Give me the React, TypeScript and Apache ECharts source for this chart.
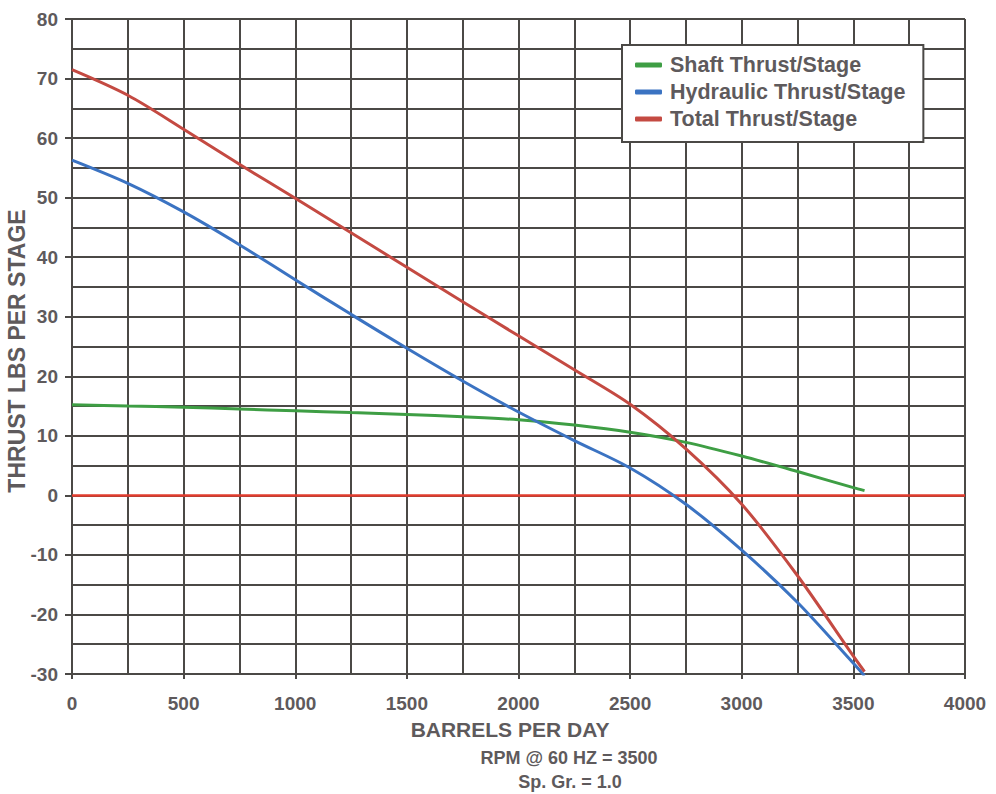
import React, { useEffect, useRef } from "react";
import * as echarts from "echarts";

const flow = [0, 250, 500, 750, 1000, 1250, 1500, 1750, 2000, 2250, 2500, 2750, 3000, 3250, 3500, 3550];
const shaftThrust = [15.2, 15.0, 14.8, 14.5, 14.2, 13.9, 13.6, 13.2, 12.7, 11.8, 10.6, 8.9, 6.6, 4.0, 1.3, 0.8];
const hydraulicThrust = [56.3, 52.4, 47.6, 42.1, 36.2, 30.4, 24.7, 19.2, 14.0, 9.2, 4.6, -1.5, -9.2, -18.0, -28.2, -30.3];
const totalThrust = [71.5, 67.2, 61.5, 55.6, 49.9, 44.1, 38.3, 32.5, 26.8, 21.1, 15.3, 7.8, -1.5, -13.5, -27.0, -29.6];

const seriesNames = ["Shaft Thrust/Stage", "Hydraulic Thrust/Stage", "Total Thrust/Stage"];
const seriesColors = ["#3e9e44", "#3b73c2", "#c44a42"];
const xTitle = "BARRELS PER DAY";
const yTitle = "THRUST LBS PER STAGE";
const subtitleLines = ["RPM @ 60 HZ = 3500", "Sp. Gr. = 1.0"];

const FONT = "'Liberation Sans', Arial, sans-serif";
const TEXT = "#5e5a5c";
const GRID = "#4b4946";

export default function App() {
  const ref = useRef<HTMLDivElement>(null);
  useEffect(() => {
    document.body.style.margin = "0";
    if (!ref.current) return;
    const chart = echarts.init(ref.current, undefined, { renderer: "svg" });
    const pairs = (ys: number[]) => flow.map((x, i) => [x, ys[i]]);
    const all = [shaftThrust, hydraulicThrust, totalThrust];
    const gridLine = { show: true, lineStyle: { color: GRID, width: 2, type: "solid" } };
    chart.setOption({
      animation: false,
      backgroundColor: "#ffffff",
      textStyle: { fontFamily: FONT },
      grid: { left: 72, right: 31, top: 19, bottom: 120 },
      xAxis: {
        type: "value",
        min: 0,
        max: 4000,
        interval: 500,
        axisLine: { show: true, onZero: false, lineStyle: { color: GRID, width: 2 } },
        axisTick: { show: true, length: 5, lineStyle: { color: GRID, width: 2 } },
        minorTick: { show: false, splitNumber: 2 },
        splitLine: gridLine,
        minorSplitLine: gridLine,
        axisLabel: {
          color: TEXT,
          fontSize: 19,
          fontWeight: "bold",
          fontFamily: FONT,
          margin: 20,
          formatter: (v: number) => String(v),
        },
      },
      yAxis: {
        type: "value",
        min: -30,
        max: 80,
        interval: 10,
        axisLine: { show: true, onZero: false, lineStyle: { color: GRID, width: 2 } },
        axisTick: { show: true, length: 7, lineStyle: { color: GRID, width: 2 } },
        minorTick: { show: false, splitNumber: 2 },
        splitLine: gridLine,
        minorSplitLine: gridLine,
        axisLabel: { color: TEXT, fontSize: 19, fontWeight: "bold", fontFamily: FONT, margin: 14 },
      },
      legend: {
        orient: "vertical",
        left: 622,
        top: 45,
        padding: [9, 18, 12, 13],
        itemGap: 5,
        itemWidth: 27,
        itemHeight: 5,
        icon: "roundRect",
        backgroundColor: "#ffffff",
        borderColor: GRID,
        borderWidth: 2,
        textStyle: { color: TEXT, fontSize: 21.5, fontWeight: "bold", fontFamily: FONT, padding: [0, 0, 0, 3] },
        data: seriesNames,
      },
      series: [
        ...all.map((ys, i) => ({
          name: seriesNames[i],
          type: "line",
          data: pairs(ys),
          smooth: 0.3,
          showSymbol: false,
          symbol: "none",
          z: 5,
          lineStyle: { color: seriesColors[i], width: 3 },
          itemStyle: { color: seriesColors[i] },
        })),
        {
          name: "zero",
          type: "line",
          data: [],
          z: 4,
          markLine: {
            silent: true,
            symbol: "none",
            label: { show: false },
            lineStyle: { color: "#e23c2e", width: 2.5, type: "solid" },
            data: [[{ coord: [0, 0] }, { coord: [4000, 0] }]],
          },
        },
      ],
      graphic: [
        {
          type: "text",
          x: 510,
          y: 729,
          style: { text: xTitle, fill: TEXT, font: `bold 21px ${FONT}`, textAlign: "center", textVerticalAlign: "middle" },
        },
        {
          type: "text",
          x: 569,
          y: 758,
          style: { text: subtitleLines[0], fill: TEXT, font: `bold 18px ${FONT}`, textAlign: "center", textVerticalAlign: "middle" },
        },
        {
          type: "text",
          x: 570,
          y: 782,
          style: { text: subtitleLines[1], fill: TEXT, font: `bold 18px ${FONT}`, textAlign: "center", textVerticalAlign: "middle" },
        },
        {
          type: "text",
          x: 17,
          y: 351,
          rotation: Math.PI / 2,
          style: { text: yTitle, fill: TEXT, font: `bold 23px ${FONT}`, textAlign: "center", textVerticalAlign: "middle" },
        },
      ],
    });
    return () => chart.dispose();
  }, []);
  return <div ref={ref} style={{ width: 996, height: 794 }} />;
}
